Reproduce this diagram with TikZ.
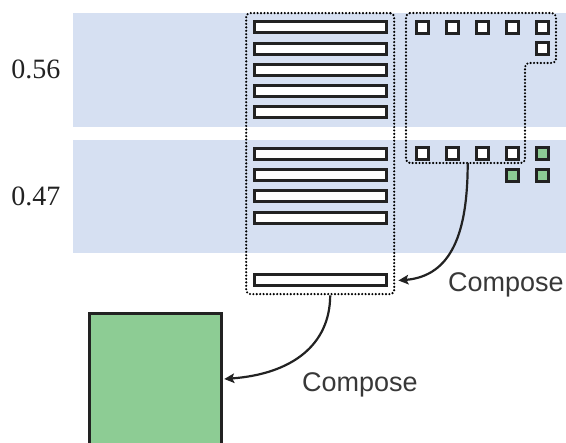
\documentclass[tikz,border=0pt]{standalone}
\usepackage{fontspec}
\newfontfamily\labelfont{Liberation Sans}
\newfontfamily\numfont{Liberation Serif}
\usetikzlibrary{arrows.meta}
\definecolor{bandblue}{RGB}{214,224,242}
\definecolor{boxgreen}{RGB}{141,204,148}
\definecolor{ink}{RGB}{34,34,34}
\begin{document}
\begin{tikzpicture}[x=1pt,y=-1pt,
  bar/.style={draw=ink, line width=3pt, fill=white, minimum width=132pt, minimum height=11pt, inner sep=0pt},
  sq/.style={draw=ink, line width=3pt, fill=white, minimum size=12pt, inner sep=0pt},
  gsq/.style={sq, fill=boxgreen},
  band/.style={fill=bandblue, draw=none},
  grp/.style={draw=black, line width=2.4pt, dash pattern=on 0pt off 3.4pt, line cap=round, rounded corners=4pt},
  conn/.style={draw=ink, line width=2.2pt, -{Stealth[length=10pt,width=9.5pt,inset=2pt]}},
  lbl/.style={font=\labelfont\fontsize{27}{30}\selectfont, text=ink!90, inner sep=0pt},
  num/.style={font=\numfont\fontsize{28}{30}\selectfont, text=ink, inner sep=0pt}]
\useasboundingbox (0,0) rectangle (566,443);
% bands
\fill[band] (73,13) rectangle (566,127);
\fill[band] (73,140) rectangle (566,253);
% numbers
\node[num] (n1) at (36,69) {0.56};
\node[num] (n2) at (36,196) {0.47};
% bars
\foreach \i/\y in {1/27.5,2/48.75,3/70,4/91.25,5/112.5,6/154,7/175.25,8/196.5,9/217.75,10/280.5}
  \node[bar] (b\i) at (320.5,\y) {};
% left group
\node[grp, minimum width=148pt, minimum height=281pt, inner sep=0pt] (lgrp) at (320.2,153.6) {};
% squares row 1
\foreach \i/\x in {1/422.5,2/452.5,3/482.5,4/512.5,5/542.5}
  \node[sq] (s\i) at (\x,28) {};
\node[sq] (s6) at (542.5,49) {};
% squares row 2
\foreach \i/\x in {1/422.5,2/452.5,3/482.5,4/512.5}
  \node[sq] (t\i) at (\x,154) {};
\node[gsq] (t5) at (542.5,154) {};
\node[gsq] (u1) at (512.5,175.5) {};
\node[gsq] (u2) at (542.5,175.5) {};
% right group
\draw[grp] (406,13) -- (556,13) -- (556,63) -- (525,63) -- (525,163) -- (406,163) -- cycle;
\coordinate (rg) at (467.7,163);
% green result
\node[draw=ink, line width=3pt, fill=boxgreen, minimum width=131.5pt, minimum height=133pt, inner sep=0pt] (res) at (155.5,380.5) {};
% arrows
\draw[conn] (rg) .. controls (467.7,232) and (452,276) .. ([xshift=3pt]lgrp.east |- b10.center);
\draw[conn] ([xshift=10pt]lgrp.south) .. controls (330,345) and (292,374) .. ([xshift=1.5pt]res.east |- 0,379);
% labels
\node[lbl, anchor=base west] (c1) at (448,292) {Compose};
\node[lbl, anchor=base west] (c2) at (302,391.7) {Compose};
\end{tikzpicture}
\end{document}
